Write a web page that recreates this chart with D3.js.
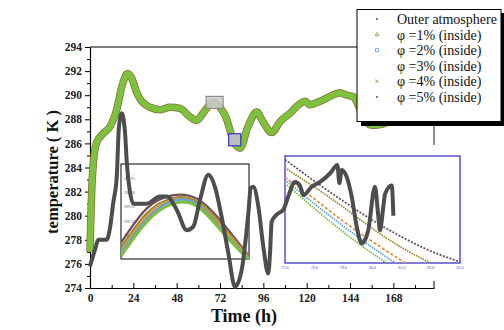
<!DOCTYPE html>
<html>
<head>
<meta charset="utf-8">
<script src="https://cdn.jsdelivr.net/npm/d3@7"></script>
<style>
  body { margin: 0; background: #fff; }
  svg { display: block; }
  text { font-family: "Liberation Serif", "Times New Roman", serif; }
</style>
</head>
<body>
<svg id="chart" width="504" height="330"></svg>
<script>
// Outer atmosphere temperature
var outerHours = [0, 2.8, 4.6, 9.2, 11.1, 12.9, 14.8, 16.0, 17.6, 19.4, 20.3, 22.2, 24.0, 31.4, 38.8, 42.5,
  48.0, 53.6, 57.2, 60.9, 65.5, 69.2, 72.9, 76.6, 80.3, 84.0, 87.7, 89.0, 90.4, 93.2, 96.0, 98.7, 99.7,
  100.6, 103.4, 107.1, 109.8, 113.5, 116.3, 118.1, 122.8, 127.4, 132.9, 137.0, 138.1, 139.4, 142.2,
  144.9, 147.7, 150.5, 152.3, 154.1, 157.8, 159.7, 160.6, 162.4, 163.4, 167.1, 168]
var outerTemp = [275.8, 277.2, 278.0, 278.0, 279.0, 281.1, 283.2, 287.3, 288.5, 286.9, 284.6, 281.9, 281.0, 281.0, 281.6, 281.6,
  280.5, 278.8, 279.1, 281.3, 283.4, 282.4, 279.9, 276.9, 274.1, 275.5, 280.2, 282.3, 282.4, 280.8, 277.4, 275.2, 276.9,
  279.5, 280.1, 280.5, 281.6, 282.8, 282.5, 281.7, 282.4, 282.8, 283.5, 284.2, 282.7, 283.8, 283.2,
  281.6, 279.1, 277.7, 278.0, 278.8, 282.4, 279.9, 278.8, 280.7, 281.8, 282.5, 280.0]

// Inside temperature, phi = 1..5 % (curves overlap at this scale)
var insideHours = [0, 0.4, 1.0, 2.0, 3.7, 7.2, 11.1, 14.8, 17.6, 20.9, 23.1, 25.9, 28.6, 33.2, 38.8, 44.3,
  49.8, 55.4, 59.1, 62.6, 68.1, 72.0, 75.7, 77.5, 79.2, 83.1, 87.5, 92.3, 95.8, 100.6, 105.2, 110.8,
  116.3, 119.1, 121.8, 127.4, 132.9, 138.5, 142.2, 145.7, 148.4, 152.3, 156.7, 162.0, 168]
var insideTemp = [277.0, 279.5, 282.3, 284.6, 286.1, 286.8, 287.4, 288.8, 290.7, 291.8, 291.4, 290.2, 289.5, 289.0, 288.8, 289.0,
  288.9, 288.2, 287.9, 288.5, 289.4, 289.0, 288.0, 287.1, 286.3, 285.6, 287.4, 288.6, 287.8, 286.9, 287.8, 288.5,
  289.3, 289.5, 289.2, 289.5, 289.9, 290.2, 290.0, 289.9, 289.2, 287.9, 287.5, 287.6, 288.0]

// zoom boxes on the main curve: [t0, t1, T0, T1]
var peakBox = [64.3, 73.7, 288.9, 289.9]
var dropBox = [76.8, 83.5, 285.8, 286.8]

// inset A (peak) series
var insetAHours = [64, 66, 68, 70, 72, 74]
var insetAPhi1 = [289.22, 289.58, 289.74, 289.70, 289.44, 289.12]
var insetAPhi2 = [289.16, 289.52, 289.71, 289.67, 289.39, 289.10]
var insetAPhi3 = [289.18, 289.55, 289.72, 289.68, 289.42, 289.11]
var insetAPhi4 = [289.13, 289.49, 289.68, 289.65, 289.37, 289.09]
var insetAPhi5 = [289.27, 289.63, 289.77, 289.73, 289.47, 289.13]
var insetATicks = [289.95, 289.8, 289.65, 289.5, 289.35]

// inset B (drop) series
var insetBHours = [77, 78, 79, 80, 81, 82, 83]
var insetBPhi1 = [286.70, 286.54, 286.37, 286.19, 286.03, 285.90, 285.78]
var insetBPhi2 = [286.60, 286.40, 286.21, 286.03, 285.87, 285.74, 285.63]
var insetBPhi3 = [286.62, 286.44, 286.25, 286.08, 285.92, 285.78, 285.67]
var insetBPhi4 = [286.57, 286.36, 286.16, 285.98, 285.82, 285.67, 285.56]
var insetBPhi5 = [286.77, 286.59, 286.42, 286.26, 286.12, 286.00, 285.91]

var legendLabels = ['Outer atmosphere', 'φ =1% (inside)', 'φ =2% (inside)', 'φ =3% (inside)', 'φ =4% (inside)', 'φ =5% (inside)']
var xMajor = [0, 24, 48, 72, 96, 120, 144, 168]
var xMinor = [12, 36, 60, 84, 108, 132, 156, 180]
var yMajor = [274, 276, 278, 280, 282, 284, 286, 288, 290, 292, 294]

var outerColor = '#4d4d4d'
var phiColors = ['#9c8a2a', '#5fa3d8', '#e8913a', '#7cbf3a', '#6e4e5e']

var svg = d3.select('#chart')
var x = d3.scaleLinear().domain([0, 190.5]).range([90, 434])
var y = d3.scaleLinear().domain([274, 294]).range([288, 47])

function zip(a, b) { return a.map(function (d, i) { return [d, b[i]] }) }

// frame pieces
svg.append('line').attr('x1', 90).attr('x2', 358).attr('y1', 47).attr('y2', 47).attr('stroke', '#000')
svg.append('line').attr('x1', 434).attr('x2', 434).attr('y1', 122).attr('y2', 145).attr('stroke', '#6a6a6a').attr('stroke-width', 1.5)
svg.append('line').attr('x1', 434).attr('x2', 434).attr('y1', 281).attr('y2', 288).attr('stroke', '#000')

// axes
svg.append('g').attr('transform', 'translate(90,0)')
  .call(d3.axisLeft(y).tickValues(yMajor).tickSize(5).tickSizeOuter(0))
svg.append('g').attr('transform', 'translate(90,0)')
  .call(d3.axisLeft(y).tickValues(d3.range(275, 294, 2)).tickSize(3).tickFormat('').tickSizeOuter(0))
  .select('.domain').remove()
svg.append('g').attr('transform', 'translate(0,288)')
  .call(d3.axisBottom(x).tickValues(xMajor).tickSizeInner(-5).tickSizeOuter(0).tickPadding(6))
svg.append('g').attr('transform', 'translate(0,288)')
  .call(d3.axisBottom(x).tickValues(xMinor).tickSizeInner(-3).tickSizeOuter(0).tickFormat(''))
  .select('.domain').remove()
svg.selectAll('.domain').attr('stroke', '#000').attr('stroke-width', 1.2)
svg.selectAll('.tick line').attr('stroke', '#000')
svg.selectAll('.tick text').style('font-family', '"Liberation Serif", serif').attr('font-size', 11.5)
  .attr('font-weight', 'bold').attr('fill', '#222')

// axis titles
svg.append('text').attr('transform', 'translate(58,172) rotate(-90)').attr('text-anchor', 'middle')
  .attr('font-size', 16.5).attr('font-weight', 'bold').attr('fill', '#111').text('temperature ( K )')
svg.append('text').attr('x', 244).attr('y', 322).attr('text-anchor', 'middle')
  .attr('font-size', 18).attr('font-weight', 'bold').attr('fill', '#111').text('Time (h)')

// inside curves (overlapping)
var mainLine = d3.line().x(function (d) { return x(d[0]) }).y(function (d) { return y(d[1]) }).curve(d3.curveMonotoneX)
svg.append('path').datum(zip(insideHours, insideTemp)).attr('d', mainLine)
  .attr('fill', 'none').attr('stroke', '#8d6a3a').attr('stroke-width', 7.5).attr('stroke-linejoin', 'round')
svg.append('path').datum(zip(insideHours, insideTemp)).attr('d', mainLine)
  .attr('fill', 'none').attr('stroke', '#7cc23c').attr('stroke-width', 6).attr('stroke-linejoin', 'round')

// zoom boxes
svg.append('rect').attr('x', x(peakBox[0])).attr('y', y(peakBox[3]))
  .attr('width', x(peakBox[1]) - x(peakBox[0])).attr('height', y(peakBox[2]) - y(peakBox[3]))
  .attr('fill', '#c9c9c9').attr('fill-opacity', 0.85).attr('stroke', '#8c8c8c').attr('stroke-width', 1.2)
svg.append('rect').attr('x', x(dropBox[0])).attr('y', y(dropBox[3]))
  .attr('width', x(dropBox[1]) - x(dropBox[0])).attr('height', y(dropBox[2]) - y(dropBox[3]))
  .attr('fill', '#bdbdbd').attr('stroke', '#3434c8').attr('stroke-width', 1.2)

// inset A
var ax = d3.scaleLinear().domain([64, 74]).range([121, 249])
var ay = d3.scaleLinear().domain([289.1, 290.1]).range([259, 164])
svg.append('clipPath').attr('id', 'clipA').append('rect').attr('x', 121).attr('y', 164).attr('width', 128).attr('height', 95)
svg.append('rect').attr('x', 121).attr('y', 164).attr('width', 128).attr('height', 95)
  .attr('fill', '#fff').attr('stroke', '#000').attr('stroke-width', 1)
svg.selectAll('.ticka').data(insetATicks).enter().append('text')
  .attr('x', 124).attr('y', function (d) { return ay(d) + 1.5 })
  .attr('font-size', 4).attr('fill', '#666').text(function (d) { return d.toFixed(2) })
var lineA = d3.line().x(function (d) { return ax(d[0]) }).y(function (d) { return ay(d[1]) }).curve(d3.curveNatural)
var gA = svg.append('g').attr('clip-path', 'url(#clipA)')
var seriesA = [[insetAPhi5, 4, 2.2], [insetAPhi1, 0, 2.2], [insetAPhi3, 2, 2], [insetAPhi2, 1, 2.4], [insetAPhi4, 3, 3]]
seriesA.forEach(function (s) {
  gA.append('path').datum(zip(insetAHours, s[0])).attr('d', lineA)
    .attr('fill', 'none').attr('stroke', phiColors[s[1]]).attr('stroke-width', s[2])
})

// inset B
var bx = d3.scaleLinear().domain([77, 83]).range([285, 460])
var by = d3.scaleLinear().domain([285.9, 286.8]).range([263, 156])
svg.append('clipPath').attr('id', 'clipB').append('rect').attr('x', 285).attr('y', 156).attr('width', 175).attr('height', 107)
svg.append('rect').attr('x', 285).attr('y', 156).attr('width', 175).attr('height', 107)
  .attr('fill', '#fff').attr('stroke', '#4a44c8').attr('stroke-width', 1.4)
svg.selectAll('.tickb').data(insetBHours).enter().append('text')
  .attr('x', function (d) { return bx(d) }).attr('y', 269).attr('text-anchor', 'middle')
  .attr('font-size', 4).attr('fill', '#4a44c8').text(function (d) { return d.toFixed(1) })
var lineB = d3.line().x(function (d) { return bx(d[0]) }).y(function (d) { return by(d[1]) }).curve(d3.curveNatural)
var gB = svg.append('g').attr('clip-path', 'url(#clipB)')
var seriesB = [[insetBPhi5, 4, '2,1.5'], [insetBPhi1, 0, '1.5,1'], [insetBPhi3, 2, '3,2'], [insetBPhi2, 1, '1.5,1'], [insetBPhi4, 3, '1.5,1']]
seriesB.forEach(function (s) {
  gB.append('path').datum(zip(insetBHours, s[0])).attr('d', lineB)
    .attr('fill', 'none').attr('stroke', phiColors[s[1]]).attr('stroke-width', 1.8).attr('stroke-dasharray', s[2])
})

// outer atmosphere on top
svg.append('path').datum(zip(outerHours, outerTemp)).attr('d', mainLine)
  .attr('fill', 'none').attr('stroke', outerColor).attr('stroke-width', 4).attr('stroke-linejoin', 'round')

// legend
svg.append('rect').attr('x', 361).attr('y', 13).attr('width', 143).attr('height', 113).attr('fill', '#000')
svg.append('rect').attr('x', 357).attr('y', 9.5).attr('width', 144).attr('height', 112)
  .attr('fill', '#fff').attr('stroke', '#000').attr('stroke-width', 1)
var legendColors = [outerColor].concat(phiColors)
var rows = svg.selectAll('.leg').data(legendLabels).enter().append('g')
  .attr('transform', function (d, i) { return 'translate(0,' + (19 + i * 15.6) + ')' })
rows.append('text').attr('x', 397).attr('dy', '0.35em').attr('font-size', 14)
  .attr('fill', '#111').text(function (d) { return d })
rows.each(function (d, i) {
  var g = d3.select(this)
  if (i === 0 || i === 5) g.append('circle').attr('cx', 377).attr('cy', 0).attr('r', 1).attr('fill', legendColors[i])
  if (i === 1) g.append('path').attr('d', d3.symbol(d3.symbolTriangle, 6)).attr('transform', 'translate(377,0)')
    .attr('fill', 'none').attr('stroke', legendColors[i]).attr('stroke-width', 0.8)
  if (i === 2) g.append('rect').attr('x', 375.5).attr('y', -1.5).attr('width', 3).attr('height', 3)
    .attr('fill', 'none').attr('stroke', legendColors[i]).attr('stroke-width', 0.8)
  if (i === 4) g.append('path').attr('d', d3.symbol(d3.symbolTimes, 8)).attr('transform', 'translate(377,0)')
    .attr('fill', 'none').attr('stroke', '#8aa830').attr('stroke-width', 1)
})
</script>
</body>
</html>
